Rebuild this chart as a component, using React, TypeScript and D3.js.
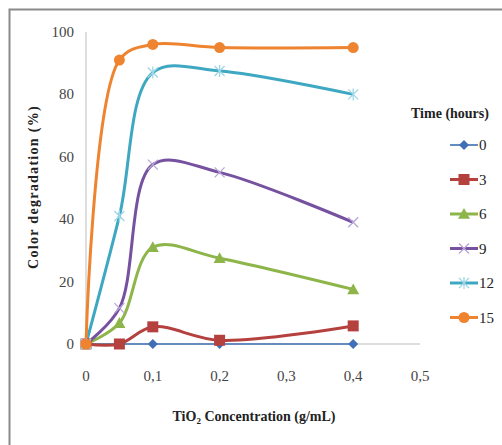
import React from "react";
import * as d3 from "d3";

const xValues = [0, 0.05, 0.1, 0.2, 0.4];
const seriesNames = ["0", "3", "6", "9", "12", "15"];
const s0 = [0, 0, 0, 0, 0];
const s3 = [0, 0, 5.5, 1.2, 5.8];
const s6 = [0, 6.7, 31, 27.5, 17.5];
const s9 = [0, 11.5, 57.5, 55, 39];
const s12 = [0, 41, 87, 87.5, 80];
const s15 = [0, 91, 96, 95, 95];
const xTicks = [0, 0.1, 0.2, 0.3, 0.4, 0.5];
const yTicks = [0, 20, 40, 60, 80, 100];

const colors = ["#3F6FB5", "#B5413E", "#8DB54A", "#7551A0", "#3EA8C2", "#EE8430"];
const markers = ["diamond", "square", "triangle", "x", "star", "circle"];
const widths = [1.6, 3, 3, 3, 3, 3];

function Marker({ type, x, y, color }: { type: string; x: number; y: number; color: string }) {
  if (type === "diamond") {
    const s = 5;
    return <path d={`M${x},${y - s}L${x + s},${y}L${x},${y + s}L${x - s},${y}Z`} fill={color} />;
  }
  if (type === "square") return <rect x={x - 5.5} y={y - 5.5} width={11} height={11} fill={color} />;
  if (type === "triangle") {
    const s = 6;
    return <path d={`M${x},${y - s}L${x + s},${y + s * 0.8}L${x - s},${y + s * 0.8}Z`} fill={color} />;
  }
  if (type === "circle") return <circle cx={x} cy={y} r={5.5} fill={color} />;
  if (type === "x") {
    const s = 5;
    return (
      <path d={`M${x - s},${y - s}L${x + s},${y + s}M${x - s},${y + s}L${x + s},${y - s}`} stroke="#B9A6D6" strokeWidth={1.3} />
    );
  }
  const s = 5;
  return (
    <path
      d={`M${x - s},${y - s}L${x + s},${y + s}M${x - s},${y + s}L${x + s},${y - s}M${x},${y - s - 1}L${x},${y + s + 1}`}
      stroke="#9FD6E6"
      strokeWidth={1.3}
    />
  );
}

export default function App() {
  const W = 502, H = 445;
  const x = d3.scaleLinear().domain([0, 0.5]).range([86, 420]);
  const y = d3.scaleLinear().domain([0, 100]).range([344, 32]);
  const all = [s0, s3, s6, s9, s12, s15];
  const line = d3
    .line<number>()
    .x((_, i) => x(xValues[i]))
    .y((d) => y(d))
    .curve(d3.curveCatmullRom.alpha(0.5));
  const font = "'Liberation Serif', 'Times New Roman', serif";
  const order = [0, 1, 2, 3, 4, 5];
  return (
    <svg width={W} height={H} style={{ position: "absolute", left: 0, top: 0 }} fontFamily={font}>
      <rect x={0} y={0} width={W} height={H} fill="#fff" />
      <rect x={9.5} y={9.5} width={W + 10} height={H + 10} fill="none" stroke="#8a8a8a" strokeWidth={2} />
      <line x1={x(0)} x2={x(0)} y1={y(100)} y2={y(0)} stroke="#bdbdbd" strokeWidth={1} />
      <line x1={x(0)} x2={x(0.5)} y1={y(0)} y2={y(0)} stroke="#bdbdbd" strokeWidth={1} />
      {yTicks.map((t) => (
        <text key={t} x={74} y={y(t) + 5} textAnchor="end" fontSize={15} fill="#444">
          {t}
        </text>
      ))}
      {xTicks.map((t) => (
        <text key={t} x={x(t)} y={381} textAnchor="middle" fontSize={15} fill="#444">
          {t === 0 ? "0" : String(t).replace(".", ",")}
        </text>
      ))}
      {order.map((k) => (
        <path key={k} d={line(all[k]) || ""} fill="none" stroke={colors[k]} strokeWidth={widths[k]} />
      ))}
      {order.map((k) =>
        all[k].map((v, i) => <Marker key={k + "-" + i} type={markers[k]} x={x(xValues[i])} y={y(v)} color={colors[k]} />)
      )}
      <text
        transform={`translate(38,${187}) rotate(-90)`}
        textAnchor="middle"
        fontSize={14}
        fontWeight="bold"
        fill="#222"
        letterSpacing={1.3}
      >
        Color degradation  (%)
      </text>
      <text x={254} y={421} textAnchor="middle" fontSize={14} fontWeight="bold" fill="#222">
        TiO<tspan fontSize={9} dy={3}>2</tspan>
        <tspan dy={-3}> Concentration (g/mL)</tspan>
      </text>
      <text x={450} y={118} textAnchor="middle" fontSize={14} fontWeight="bold" fill="#222">
        Time (hours)
      </text>
      {seriesNames.map((n, k) => {
        const ly = 145 + k * 34.5;
        return (
          <g key={n}>
            <line x1={450} x2={478} y1={ly} y2={ly} stroke={colors[k]} strokeWidth={widths[k]} />
            <Marker type={markers[k]} x={464} y={ly} color={colors[k]} />
            <text x={479} y={ly + 5} fontSize={15} fill="#222">
              {n}
            </text>
          </g>
        );
      })}
    </svg>
  );
}
